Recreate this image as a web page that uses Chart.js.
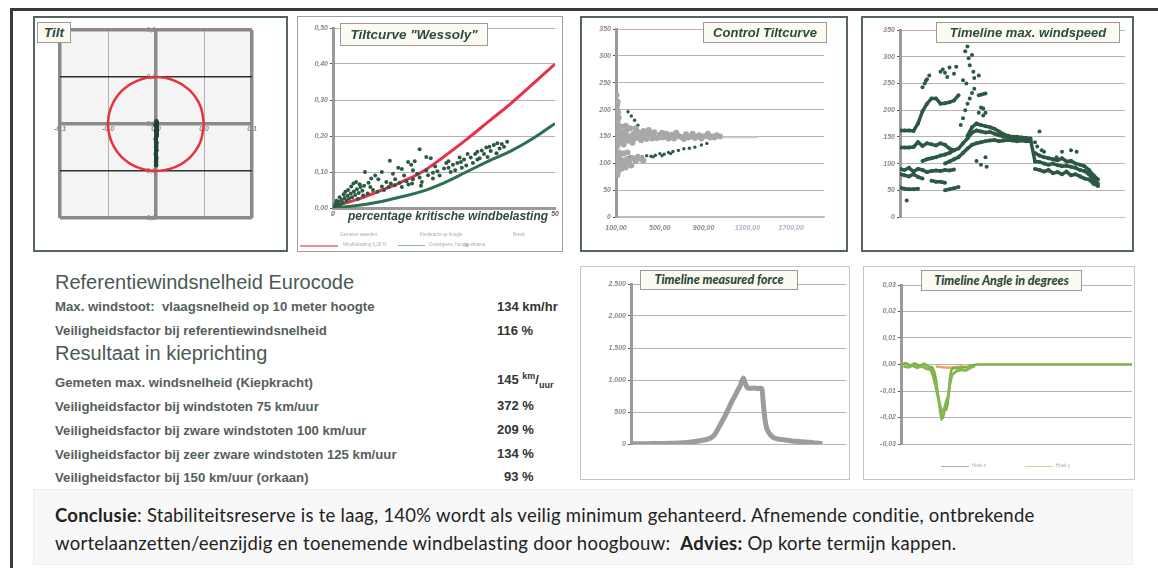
<!DOCTYPE html>
<html>
<head>
<meta charset="utf-8">
<script src="https://cdn.jsdelivr.net/npm/chart.js@4.4.1/dist/chart.umd.min.js"></script>
<style>
  body { margin: 0; width: 1158px; height: 568px; background: #fff; position: relative; overflow: hidden; font-family: "Liberation Sans", Arial, sans-serif; }
  .abs { position: absolute; }
  .panel { position: absolute; box-sizing: border-box; background: #fff; }
  .dark { border: 2px solid #56655f; }
  .light { border: 1px solid #c4c4c4; }
  .ttl { position: absolute; box-sizing: border-box; background: #fbfbf2; border: 1px solid #9a9a9a; color: #2f4a40;
         font: italic bold 13px "Liberation Sans", Arial, sans-serif; text-align: center; white-space: nowrap; z-index: 5; }
  .ttl2 { font: italic 900 12.5px Lato, sans-serif; }
  canvas { position: absolute; }
  .txt { position: absolute; white-space: nowrap; color: #3f4a46; }
  .h { font-size: 20px; color: #4a5954; }
  .r { font-size: 13.2px; font-weight: bold; color: #565e5b; }
  .v { font-size: 13px; font-weight: bold; color: #333; }
  .leg { position: absolute; font-size: 4.5px; color: #aaa; white-space: nowrap; }
</style>
</head>
<body>
<div class="abs" style="left:11px;top:8px;width:1147px;height:2.5px;background:#3a3a3a"></div>
<div class="abs" style="left:10px;top:8px;width:3px;height:560px;background:#3a3a3a"></div>

<div class="panel dark" style="left:33px;top:16px;width:255px;height:236px"></div>
<div class="panel" style="left:297px;top:16px;width:266px;height:236px;border:1.5px solid #9aa19e"></div>
<div class="panel dark" style="left:580px;top:16px;width:268px;height:236px"></div>
<div class="panel dark" style="left:861px;top:16px;width:273px;height:236px"></div>
<div class="panel light" style="left:580px;top:266px;width:270px;height:214px"></div>
<div class="panel light" style="left:863px;top:266px;width:272px;height:214px"></div>

<canvas id="tilt" width="251" height="232" style="left:35px;top:18px"></canvas>
<canvas id="wessoly" width="262" height="232" style="left:299px;top:18px"></canvas>
<canvas id="control" width="264" height="232" style="left:582px;top:18px"></canvas>
<canvas id="wind" width="269" height="232" style="left:863px;top:18px"></canvas>
<canvas id="force" width="266" height="210" style="left:582px;top:268px"></canvas>
<canvas id="angle" width="268" height="210" style="left:865px;top:268px"></canvas>

<div class="ttl" style="left:37px;top:22px;width:34px;height:21px;line-height:19px;font-size:13.5px">Tilt</div>
<div class="ttl" style="left:340px;top:23px;width:148px;height:23px;line-height:21px;font-size:13.5px">Tiltcurve "Wessoly"</div>
<div class="ttl" style="left:703px;top:22px;width:124px;height:21px;line-height:19px">Control Tiltcurve</div>
<div class="ttl" style="left:936px;top:22px;width:184px;height:21px;line-height:19px">Timeline max. windspeed</div>
<div class="ttl ttl2" style="left:640px;top:270px;width:158px;height:20px;line-height:18px">Timeline measured force</div>
<div class="ttl ttl2" style="left:921px;top:270px;width:161px;height:21px;line-height:19px">Timeline Angle in degrees</div>

<div class="txt" style="left:348px;top:209px;font:italic bold 12px 'Liberation Sans',Arial;color:#2f4a40;z-index:4">percentage kritische windbelasting</div>
<div class="leg" style="left:340px;top:232px">Gemeten waarden</div>
<div class="leg" style="left:420px;top:232px">Kiepkracht op hoogte</div>
<div class="leg" style="left:513px;top:232px">Breuk</div>
<div class="abs" style="left:300px;top:245px;width:38px;height:1.5px;background:#ee8c94"></div>
<div class="leg" style="left:343px;top:242px">Windbelasting 0,25 %</div>
<div class="abs" style="left:398px;top:245px;width:27px;height:1.2px;background:#8fb19f"></div>
<div class="leg" style="left:429px;top:242px">Ondergrens, hoogte afname</div>
<div class="abs" style="left:465px;top:243px;width:4px;height:4px;border-radius:50%;background:#bbb"></div>
<div class="abs" style="left:941px;top:466px;width:28px;height:1.3px;background:#aaa"></div>
<div class="leg" style="left:972px;top:463px">Hoek x</div>
<div class="abs" style="left:1025px;top:466px;width:28px;height:1.3px;background:#c6dc9a"></div>
<div class="leg" style="left:1056px;top:463px">Hoek y</div>

<div class="txt h" style="left:55px;top:271px">Referentiewindsnelheid Eurocode</div>
<div class="txt r" style="left:55px;top:299px">Max. windstoot:&nbsp; vlaagsnelheid op 10 meter hoogte</div>
<div class="txt v" style="left:497px;top:299px">134 km/hr</div>
<div class="txt r" style="left:55px;top:323px">Veiligheidsfactor bij referentiewindsnelheid</div>
<div class="txt v" style="left:497px;top:323px">116 %</div>
<div class="txt h" style="left:55px;top:342px">Resultaat in kieprichting</div>
<div class="txt r" style="left:55px;top:375px">Gemeten max. windsnelheid (Kiepkracht)</div>
<div class="txt v" style="left:497px;top:371px">145 <sup style="font-size:9px">km</sup>/<sub style="font-size:9px">uur</sub></div>
<div class="txt r" style="left:55px;top:399px">Veiligheidsfactor bij windstoten 75 km/uur</div>
<div class="txt v" style="left:497px;top:398px">372 %</div>
<div class="txt r" style="left:55px;top:423px">Veiligheidsfactor bij zware windstoten 100 km/uur</div>
<div class="txt v" style="left:497px;top:422px">209 %</div>
<div class="txt r" style="left:55px;top:447px">Veiligheidsfactor bij zeer zware windstoten 125 km/uur</div>
<div class="txt v" style="left:497px;top:446px">134 %</div>
<div class="txt r" style="left:55px;top:470px">Veiligheidsfactor bij 150 km/uur (orkaan)</div>
<div class="txt v" style="left:504px;top:469px">93 %</div>

<div class="abs" style="left:33px;top:489px;width:1100px;height:76px;background:#f8f8f8;border:1px solid #eee;box-sizing:border-box"></div>
<div class="txt" style="left:55px;top:501px;font:18.5px Lato,sans-serif;color:#222;line-height:28px;letter-spacing:0.25px">
<b>Conclusie</b>: Stabiliteitsreserve is te laag, 140% wordt als veilig minimum gehanteerd. Afnemende conditie, ontbrekende<br>
wortelaanzetten/eenzijdig en toenemende windbelasting door hoogbouw:&nbsp; <b>Advies:</b> Op korte termijn kappen.
</div>

<script>
// ---- Tilt (x/y tilt in degrees) ----
const tiltTicks = [-0.1, -0.05, 0, 0.05, 0.1];
const tiltXLabels = ["-0,1", "-0,0", "0,0", "0,0", "0,1"];
const tiltYLabels = ["-0,1", "-0,0", "0,0", "0,1", "0,1"];
const tiltCircleX = [0.05, 0.0462, 0.0354, 0.0191, 0, -0.0191, -0.0354, -0.0462, -0.05, -0.0462, -0.0354, -0.0191, 0, 0.0191, 0.0354, 0.0462, 0.05];
const tiltCircleY = [0, 0.0191, 0.0354, 0.0462, 0.05, 0.0462, 0.0354, 0.0191, 0, -0.0191, -0.0354, -0.0462, -0.05, -0.0462, -0.0354, -0.0191, 0];
const tiltMeasX = [0.0005, 0.001, -0.0005, 0.0008, 0.0, 0.0006, -0.0003, 0.0004, 0.0, 0.0005, -0.0002, 0.0003, 0.0, 0.0002];
const tiltMeasY = [0.003, 0.001, -0.001, -0.004, -0.008, -0.012, -0.016, -0.02, -0.024, -0.028, -0.032, -0.036, -0.04, -0.044];

// ---- Tiltcurve Wessoly ----
const wessolyPct = [0, 5, 10, 15, 20, 25, 30, 35, 40, 45, 50];
const wessolyUpper = [0.005, 0.022, 0.045, 0.07, 0.10, 0.143, 0.19, 0.24, 0.29, 0.345, 0.40];
const wessolyLower = [0, 0.006, 0.016, 0.03, 0.046, 0.07, 0.10, 0.13, 0.158, 0.193, 0.235];
const wessolyYTicks = [0, 0.1, 0.2, 0.3, 0.4, 0.5];
const wessolyYLabels = ["0,00", "0,10", "0,20", "0,30", "0,40", "0,50"];
const wessolyXTicks = [0, 50];
const wessolyXLabels = ["0", "50"];
const wessolyMeasured = [
  [0.3,0.005],[0.6,0.012],[1.0,0.008],[1.3,0.018],[1.6,0.01],[2.0,0.022],[2.2,0.014],[2.6,0.028],[3.0,0.02],[3.3,0.034],
  [3.6,0.026],[4.0,0.04],[4.3,0.03],[4.7,0.046],[5.0,0.036],[5.4,0.052],[5.8,0.042],[6.2,0.058],[6.6,0.048],[7.0,0.062],
  [2.8,0.045],[3.4,0.05],[4.1,0.06],[4.6,0.068],[5.2,0.072],[6.0,0.066],[7.2,0.1],[8.0,0.07],[8.6,0.082],[9.5,0.09],
  [10.2,0.08],[11.0,0.1],[12.8,0.131],[13.5,0.095],[14.7,0.112],[15.5,0.108],[16.9,0.128],[17.6,0.12],[18.4,0.13],[19.5,0.163],
  [21,0.142],[22,0.138],[18.0,0.105],[10,0.045],[11.5,0.05],[12.5,0.058],[13.9,0.063],[15,0.07],[16.5,0.074],[18,0.08],
  [19.5,0.085],[21.4,0.091],[22.5,0.098],[23.5,0.102],[25,0.11],[26,0.112],[27,0.12],[28,0.125],[28.8,0.128],[29.5,0.135],
  [30.3,0.15],[31,0.14],[32,0.15],[32.5,0.156],[33.5,0.16],[34.5,0.168],[35.2,0.17],[36.2,0.175],[37,0.18],[38,0.178],
  [39.2,0.184],[24,0.09],[26.5,0.1],[29,0.112],[31.5,0.125],[33,0.138],[34,0.15],[35.5,0.158],[37.5,0.165],[20,0.072],
  [17,0.065],[22.5,0.082],[1.5,0.03],[2.4,0.038],[0.8,0.02],[5.6,0.025],[7.8,0.04],[9,0.05],[6.8,0.035],[8.4,0.058],
  [12,0.072],[14,0.08],[16,0.09],[19,0.095],[21,0.105],[23,0.115],[25.5,0.125],[27.5,0.105],[30,0.118],[32.5,0.135],
  [34.8,0.142],[36.8,0.152],[38.5,0.17],[26,0.13],[28.5,0.14],[11,0.06],[13,0.068],[15.5,0.058],[17.8,0.068],[19.8,0.062]
];

// ---- Control Tiltcurve ----
const controlXTicks = [100, 500, 900, 1300, 1700];
const controlXLabels = ["100,00", "500,00", "900,00", "1300,00", "1700,00"];
const speedTicks = [0, 50, 100, 150, 200, 250, 300, 350];
const controlGray = [
  [105,227],[110,208],[108,190],[112,171],[106,152],[115,134],[110,115],[104,96],[112,78],[118,84],
  [120,160],[125,140],[130,120],[108,200],[115,180],[122,105],[128,170],[135,155],[104,130],[110,90],
  [140,150],[160,158],[180,145],[200,162],[220,150],[240,142],[260,155],[280,165],[300,148],[320,152],
  [350,160],[380,145],[410,155],[440,150],[470,147],[500,153],[530,148],[560,155],[600,150],[630,146],
  [660,152],[700,149],[740,154],[780,150],[820,147],[860,152],[900,150],[940,155],[980,150],[1020,152],
  [1050,150],[150,168],[170,135],[190,170],[230,165],[250,138],[290,160],[330,143],[360,150],[400,162],
  [450,158],[520,157],[580,146],[650,157],[720,145],[800,155],[880,146],[960,148],
  [120,100],[140,95],[160,105],[180,98],[200,108],[220,102],[250,110],[280,104],[300,112],[330,108],
  [350,105],[150,90],[190,92],[240,96],[145,140],[165,150],[185,155],[210,142],[230,150],[270,146],
  [310,157],[340,150],[370,155],[430,146],[490,148],[550,150],[610,153],[680,150],[760,148],[840,150],
  [920,151],[1000,148],[130,112],[170,118],[205,120],[115,215],[120,195],[125,185]
];
const controlFaint = [[1080,148],[1400,148]];
const controlGreen = [
  [210,196],[240,188],[270,180],[300,171],[195,121],[210,109],[230,112],[260,108],[300,110],[340,112],
  [380,114],[420,113],[460,115],[500,118],[540,117],[580,120],[620,122],[670,124],[720,127],[770,128],
  [820,130],[880,134],[930,137],[440,112],[520,114],[600,118]
];

// ---- Timeline max. windspeed (time index 0..88, step 2) ----
const windTime = [0,2,4,6,8,10,12,14,16,18,20,22,24,26,28,30,32,34,36,38,40,42,44,46,48,50,52,54,56,58,60,62,64,66,68,70,72,74,76,78,80,82,84,86,88];
const windTop = [162,162,162,161,175,198,212,222,222,212,213,215,218,228];
const wind130 = [130,130,130,131,140,133,138,136,134,138,135,128,125];
const windMain = [null,null,null,null,null,105,108,110,112,115,117,120,125,128,138,147,158,162,160,158,159,156,153,150,150,148,147,147,146,145,104,103,100,98,100,97,95,96,94,92,88,86,80,70,62];
const windMainUpper = [null,null,null,null,null,null,null,null,null,null,null,null,null,null,null,152,168,175,172,170,168,165,160,155,152,150,150,149,148,147];
const windMainLower = [null,null,null,null,null,null,null,null,null,null,100,104,108,112,120,128,135,138,140,142,143,144,142,143,144,143,142,143,142,142];
const windAfterUpper = [null,null,null,null,null,null,null,null,null,null,null,null,null,null,null,null,null,null,null,null,null,null,null,null,null,null,null,null,null,null,120,115,112,110,108,106,110,104,105,100,98,95,88,78,70];
const windAfterLower = [null,null,null,null,null,null,null,null,null,null,null,null,null,null,null,null,null,null,null,null,null,null,null,null,null,null,null,null,null,null,90,88,85,88,82,84,80,85,78,80,76,72,70,62,58];
const wind90 = [90,88,92,85,90,88,84,86,87,86,88,87,89];
const wind80 = [80,78,76,80,75,72];
const wind65 = [null,null,null,null,null,null,null,68,66,66,64];
const wind53 = [null,null,null,null,null,null,null,null,null,null,50,52,54,56];
const wind50 = [55,53,52,52,53];
const windGusts = [
  [3,31],[10,243],[11,250],[11.5,255],[12,258],[13,265],[18,272],[19,276],[20,270],[21,262],
  [22,280],[24,268],[25,281],[28,256],[29,310],[29.5,250],[30,319],[30.5,297],[31,284],[32,303],
  [32.6,272],[33,260],[35,265],[27,172],[28,185],[29,200],[30,212],[31,222],[32,232],[33,240],
  [35,228],[36,229],[37,230],[38,231],[35,195],[36,205],[37,203],[38,195],[37,190],[60,140],
  [61,132],[62,160],[63,125],[64,122],[69.6,112],[72,122],[76,125],[78.5,122],[34,105],[36,98],
  [38,112],[38.5,94]
];

// ---- Timeline measured force ----
const forceTime = [0,2,6,10,15,20,24,28,32,35,37,38.5,40,41.5,43,44.5,46,47.5,48.5,49.5,50.8,51.5,52.3,53,53.5,54,55,57,59,60.8,61.5,62.3,63,64,66,68,70.8,74,77,80,83,86,89];
const forceValue = [0,2,5,6,8,12,18,30,50,70,95,130,208,300,390,490,600,700,760,830,910,980,1030,964,920,885,870,875,868,870,650,390,260,180,104,80,68,52,42,33,26,15,5];
const forceTicks = [0, 500, 1000, 1500, 2000, 2500];
const forceLabels = ["0", "500", "1.000", "1.500", "2.000", "2.500"];

// ---- Timeline angle ----
const angleTicks = [-0.03, -0.02, -0.01, 0, 0.01, 0.02, 0.03];
const angleLabels = ["-0,03", "-0,02", "-0,01", "0,00", "0,01", "0,02", "0,03"];
const angleTime = [0,2,4,6,8,10,12,13.5,14.5,15.2,15.8,16.4,17,17.6,18.2,18.8,19.6,20.2,20.7,21.2,21.8,23,25,27,29,31,33,50,70,100];
const angleMain = [0,0.0005,-0.0003,0.0004,-0.0005,0.0003,-0.0008,-0.001,-0.003,-0.006,-0.01,-0.014,-0.018,-0.0205,-0.02,-0.0175,-0.017,-0.015,-0.01,-0.005,-0.002,-0.0012,-0.0015,-0.001,-0.0008,-0.0003,0,0,0,0];
const angleTime2 = [1,3,5,7,9,11,13,14,15,16,17,18,19,19.8,20.5,21,22,24,26,28,30,32];
const angleSecond = [-0.0006,-0.001,-0.0004,-0.0012,-0.0006,-0.0015,-0.002,-0.0045,-0.008,-0.012,-0.016,-0.0185,-0.016,-0.0135,-0.012,-0.008,-0.004,-0.0025,-0.002,-0.0022,-0.0012,-0.0006];
const angleTime3 = [15,18,21,24,27];
const angleOrange = [-0.0008,-0.001,-0.0012,-0.0009,-0.0006];

// ---------------------------------------------------------------
const plotBg = {
  id: "plotBg",
  beforeDraw(chart, args, opts) {
    if (!opts.color) return;
    const {ctx, chartArea: a} = chart;
    ctx.save();
    ctx.fillStyle = opts.color;
    ctx.fillRect(a.left, a.top, a.width, a.height);
    ctx.restore();
  }
};
Chart.register(plotBg);
Chart.defaults.animation = false;
Chart.defaults.responsive = false;
Chart.defaults.plugins.legend.display = false;
Chart.defaults.plugins.tooltip.enabled = false;

const tickFont = {family: "Liberation Sans", size: 7, style: "italic", weight: "bold"};
const pairs = list => list.map(p => ({x: p[0], y: p[1]}));
const zip = (xs, ys) => xs.map((x, i) => ({x: x, y: ys[i] ?? null}));
const setTicks = values => scale => { scale.ticks = values.map(v => ({value: v})); };

function yAxis(min, max, ticks, labels, width) {
  return {
    min: min, max: max,
    afterBuildTicks: setTicks(ticks),
    afterFit: s => { s.width = width; },
    ticks: {font: tickFont, color: "#8a8a8a", padding: 2, callback: (v, i) => labels[i]},
    grid: {color: "#b4b4b4", lineWidth: 1, tickLength: 3, tickColor: "#555"},
    border: {color: "#9a9a9a", width: 3}
  };
}

// Tilt
new Chart(document.getElementById("tilt"), {
  type: "scatter",
  data: {
    datasets: [
      {data: zip(tiltCircleX, tiltCircleY), showLine: true, tension: 0.34, borderColor: "#e5323f", borderWidth: 2.5, pointRadius: 0},
      {data: zip(tiltMeasX, tiltMeasY), showLine: true, borderColor: "#1f4433", borderWidth: 4, pointRadius: 2.2, pointBackgroundColor: "#1f4433", pointBorderWidth: 0}
    ]
  },
  options: {
    layout: {padding: {left: 25, right: 34, top: 12, bottom: 32}},
    plugins: {plotBg: {color: "#f4f4f4"}},
    scales: {
      x: {
        min: -0.1, max: 0.1, position: {y: 0},
        afterBuildTicks: setTicks(tiltTicks),
        ticks: {font: tickFont, color: "#8c8c8c", padding: 1, callback: (v, i) => tiltXLabels[i]},
        grid: {
          color: c => (c.tick && Math.abs(c.tick.value) > 0.07 || c.tick && c.tick.value === 0) ? "#8a8a8a" : "#b0b0b0",
          lineWidth: c => (c.tick && Math.abs(c.tick.value) > 0.07 || c.tick && c.tick.value === 0) ? 3.5 : 1,
          drawTicks: false
        },
        border: {display: false}
      },
      y: {
        min: -0.1, max: 0.1, position: {x: 0},
        afterBuildTicks: setTicks(tiltTicks),
        ticks: {font: tickFont, color: "#8c8c8c", padding: 1, callback: (v, i) => tiltYLabels[i]},
        grid: {
          color: c => (c.tick && Math.abs(Math.abs(c.tick.value) - 0.05) < 0.01) ? "#2e2e2e" : "#8a8a8a",
          lineWidth: c => (c.tick && Math.abs(Math.abs(c.tick.value) - 0.05) < 0.01) ? 1.6 : 3.5,
          drawTicks: false
        },
        border: {display: false}
      }
    }
  }
});

// Wessoly
new Chart(document.getElementById("wessoly"), {
  type: "scatter",
  data: {
    datasets: [
      {data: pairs(wessolyMeasured), pointRadius: 2, pointBackgroundColor: "#2b5a43", pointBorderWidth: 0},
      {data: zip(wessolyPct, wessolyUpper), showLine: true, tension: 0.4, borderColor: "#e8304a", borderWidth: 3, pointRadius: 0},
      {data: zip(wessolyPct, wessolyLower), showLine: true, tension: 0.4, borderColor: "#2c7050", borderWidth: 3, pointRadius: 0}
    ]
  },
  options: {
    layout: {padding: {left: 10, right: 4, top: 10, bottom: 28}},
    scales: {
      x: {
        min: 0, max: 50,
        afterBuildTicks: setTicks(wessolyXTicks),
        afterFit: s => { s.height = 14; },
        ticks: {font: tickFont, color: "#666", padding: 2, autoSkip: false, maxRotation: 0,
                callback: (v, i) => wessolyXLabels[i]},
        grid: {display: false, drawTicks: false},
        border: {color: "#9a9a9a", width: 3}
      },
      y: yAxis(0, 0.5, wessolyYTicks, wessolyYLabels, 24)
    }
  }
});

// Control Tiltcurve
new Chart(document.getElementById("control"), {
  type: "scatter",
  data: {
    datasets: [
      {data: pairs(controlFaint), showLine: true, borderColor: "#cfcfcf", borderWidth: 1.5, pointRadius: 0},
      {data: pairs(controlGray), pointRadius: 3, pointBackgroundColor: "#a8a8a8", pointBorderWidth: 0},
      {data: pairs(controlGreen), pointRadius: 1.7, pointBackgroundColor: "#2d5a45", pointBorderWidth: 0}
    ]
  },
  options: {
    layout: {padding: {left: 10, right: 22, top: 11, bottom: 13}},
    scales: {
      x: {
        min: 100, max: 2000,
        afterBuildTicks: setTicks(controlXTicks),
        afterFit: s => { s.height = 20; },
        ticks: {font: tickFont, color: c => c.index < 3 ? "#8a8a8a" : "#a9b4c9", padding: 7, maxRotation: 0, autoSkip: false,
                callback: (v, i) => controlXLabels[i]},
        grid: {display: false, drawTicks: false},
        border: {color: "#bdbdbd", width: 1.5}
      },
      y: yAxis(0, 350, speedTicks, speedTicks.map(String), 24)
    }
  }
});

// Timeline max. windspeed
const windGreen = "#2b5944";
const band = arr => ({data: zip(windTime, arr), showLine: true, borderColor: windGreen, borderWidth: 3.5,
                      pointRadius: 2, pointBackgroundColor: windGreen, pointBorderWidth: 0});
new Chart(document.getElementById("wind"), {
  type: "scatter",
  data: {
    datasets: [
      band(windTop), band(wind130), band(windMain), band(windMainUpper), band(windMainLower),
      band(windAfterUpper), band(windAfterLower), band(wind90), band(wind80), band(wind65), band(wind53), band(wind50),
      {data: pairs(windGusts), pointRadius: 2, pointBackgroundColor: windGreen, pointBorderWidth: 0}
    ]
  },
  options: {
    layout: {padding: {left: 13, right: 7, top: 12, bottom: 33}},
    scales: {
      x: {
        min: 0, max: 100,
        afterFit: s => { s.height = 0; },
        ticks: {display: false},
        grid: {display: false},
        border: {color: "#c4c4c4", width: 1}
      },
      y: yAxis(0, 350, speedTicks, speedTicks.map(String), 24)
    }
  }
});

// Timeline measured force
new Chart(document.getElementById("force"), {
  type: "scatter",
  data: {
    datasets: [
      {data: zip(forceTime, forceValue), showLine: true, borderColor: "#9c9c9c", borderWidth: 5, pointRadius: 0, tension: 0.2}
    ]
  },
  options: {
    layout: {padding: {left: 23, right: 2, top: 16, bottom: 34}},
    scales: {
      x: {
        min: 0, max: 100,
        afterFit: s => { s.height = 0; },
        ticks: {display: false},
        grid: {display: false},
        border: {display: false}
      },
      y: yAxis(0, 2500, forceTicks, forceLabels, 26)
    }
  }
});

// Timeline angle
new Chart(document.getElementById("angle"), {
  type: "scatter",
  data: {
    datasets: [
      {data: zip(angleTime2, angleSecond), showLine: true, borderColor: "#86b84e", borderWidth: 3, pointRadius: 0},
      {data: zip(angleTime, angleMain), showLine: true, borderColor: "#7db044", borderWidth: 2.5, pointRadius: 0},
      {data: zip(angleTime3, angleOrange), showLine: true, borderColor: "#f2a35a", borderWidth: 2.5, pointRadius: 0}
    ]
  },
  options: {
    layout: {padding: {left: 12, right: 1, top: 17, bottom: 34}},
    scales: {
      x: {
        min: 0, max: 100,
        afterFit: s => { s.height = 0; },
        ticks: {display: false},
        grid: {display: false},
        border: {display: false}
      },
      y: yAxis(-0.03, 0.03, angleTicks, angleLabels, 24)
    }
  }
});
</script>
</body>
</html>
